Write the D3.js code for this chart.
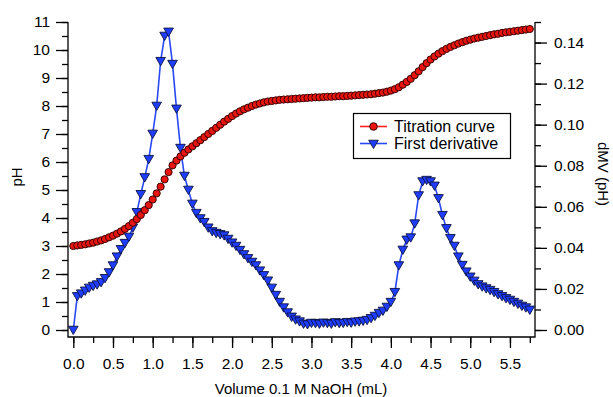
<!DOCTYPE html>
<html>
<head>
<meta charset="utf-8">
<script src="https://cdn.jsdelivr.net/npm/d3@7"></script>
<style>
  body { margin: 0; background: #fff; }
  text { font-family: "Liberation Sans", Arial, Helvetica, sans-serif; }
</style>
</head>
<body>
<div id="chart"></div>
<script>
// volume step between readings (mL)
var volume_step = 0.05;

// titration curve, pH
var ph_values = [
    3.00, 3.02, 3.04, 3.06, 3.09, 3.12, 3.16, 3.20, 3.25, 3.31,
    3.37, 3.44, 3.52, 3.61, 3.71, 3.83, 3.96, 4.11, 4.28, 4.46,
    4.66, 4.88, 5.12, 5.38, 5.64, 5.88, 6.05, 6.20, 6.33, 6.45,
    6.56, 6.67, 6.78, 6.89, 7.00, 7.11, 7.22, 7.33, 7.44, 7.54,
    7.64, 7.73, 7.81, 7.88, 7.94, 8.00, 8.05, 8.09, 8.13, 8.16,
    8.18, 8.20, 8.22, 8.23, 8.24, 8.25, 8.26, 8.27, 8.28, 8.29,
    8.30, 8.31, 8.31, 8.32, 8.33, 8.33, 8.34, 8.35, 8.35, 8.36,
    8.37, 8.38, 8.39, 8.40, 8.41, 8.42, 8.44, 8.46, 8.48, 8.51,
    8.55, 8.60, 8.67, 8.76, 8.86, 8.97, 9.10, 9.24, 9.39, 9.53,
    9.66, 9.77, 9.87, 9.96, 10.04, 10.11, 10.17, 10.23, 10.28, 10.33,
    10.37, 10.41, 10.44, 10.47, 10.50, 10.53, 10.56, 10.58, 10.61, 10.63,
    10.65, 10.67, 10.69, 10.71, 10.73, 10.75
];

// first derivative, dMV (pH)
var dmv_values = [
    0.0000, 0.0164, 0.0177, 0.0191, 0.0205, 0.0214, 0.0221, 0.0232, 0.0252, 0.0280,
    0.0314, 0.0357, 0.0393, 0.0423, 0.0453, 0.0498, 0.0573, 0.0661, 0.0743, 0.0832,
    0.0955, 0.1091, 0.1309, 0.1432, 0.1452, 0.1295, 0.1077, 0.0886, 0.0750, 0.0682,
    0.0614, 0.0569, 0.0543, 0.0525, 0.0498, 0.0480, 0.0472, 0.0466, 0.0460, 0.0443,
    0.0425, 0.0409, 0.0389, 0.0368, 0.0349, 0.0331, 0.0314, 0.0289, 0.0266, 0.0240,
    0.0205, 0.0170, 0.0136, 0.0109, 0.0085, 0.0064, 0.0050, 0.0041, 0.0030, 0.0027,
    0.0034, 0.0033, 0.0030, 0.0035, 0.0033, 0.0030, 0.0037, 0.0033, 0.0034, 0.0038,
    0.0035, 0.0040, 0.0041, 0.0044, 0.0048, 0.0057, 0.0068, 0.0082, 0.0093, 0.0112,
    0.0136, 0.0184, 0.0314, 0.0390, 0.0439, 0.0450, 0.0518, 0.0655, 0.0723, 0.0730,
    0.0723, 0.0702, 0.0641, 0.0559, 0.0495, 0.0447, 0.0409, 0.0357, 0.0316, 0.0284,
    0.0259, 0.0239, 0.0222, 0.0211, 0.0202, 0.0194, 0.0184, 0.0173, 0.0164, 0.0154,
    0.0146, 0.0136, 0.0127, 0.0117, 0.0109, 0.0098
];

// tick labels
var vol_ticks = [0.0, 0.5, 1.0, 1.5, 2.0, 2.5, 3.0, 3.5, 4.0, 4.5, 5.0, 5.5];
var ph_ticks = [0, 1, 2, 3, 4, 5, 6, 7, 8, 9, 10, 11];
var dmv_ticks = [0.00, 0.02, 0.04, 0.06, 0.08, 0.10, 0.12, 0.14];

var series_names = ['Titration curve', 'First derivative'];

var chart_width = 613;
var chart_height = 397;
var left_edge = 68, right_edge = 535, top_edge = 22, bottom_edge = 337;

var svg = d3.select('#chart')
    .append('svg')
    .attr('width', chart_width)
    .attr('height', chart_height)

var x_scale = d3.scaleLinear()
    .domain([0, 5.75])
    .range([73.3, 529.8])

var y_scale = d3.scaleLinear()
    .domain([0, 11])
    .range([330, 22])

var y2_scale = d3.scaleLinear()
    .domain([0, 0.15])
    .range([330, 22])

// frame (no top line)
svg.append('path')
    .attr('d', 'M' + left_edge + ',' + top_edge + 'V' + bottom_edge + 'H' + right_edge + 'V' + top_edge)
    .attr('fill', 'none')
    .attr('stroke', '#000')
    .attr('stroke-width', 1.3)

function style_axis(g, size) {
    g.select('.domain').remove();
    g.selectAll('.tick line').attr('stroke', '#000').attr('stroke-width', 1.3);
    g.selectAll('.tick text').attr('font-size', size).attr('fill', '#000');
}

// minor ticks
var vol_minor = d3.range(0, 24).map(function (i) { return i * 0.25; });
var ph_minor = d3.range(0, 23).map(function (i) { return i * 0.5; });
var dmv_minor = d3.range(0, 16).map(function (i) { return i * 0.01; });

svg.append('g')
    .attr('transform', 'translate(0,' + bottom_edge + ')')
    .call(d3.axisBottom(x_scale).tickValues(vol_minor).tickSize(6).tickFormat(''))
    .call(style_axis, 14)
svg.append('g')
    .attr('transform', 'translate(0,' + bottom_edge + ')')
    .call(d3.axisBottom(x_scale).tickValues(vol_ticks).tickSize(11).tickPadding(10).tickFormat(d3.format('.1f')))
    .call(style_axis, 15.5)

svg.append('g')
    .attr('transform', 'translate(' + left_edge + ',0)')
    .call(d3.axisLeft(y_scale).tickValues(ph_minor).tickSize(6).tickFormat(''))
    .call(style_axis, 14)
svg.append('g')
    .attr('transform', 'translate(' + left_edge + ',0)')
    .call(d3.axisLeft(y_scale).tickValues(ph_ticks).tickSize(12).tickPadding(6).tickFormat(d3.format('d')))
    .call(style_axis, 15.5)

svg.append('g')
    .attr('transform', 'translate(' + right_edge + ',0)')
    .call(d3.axisRight(y2_scale).tickValues(dmv_minor).tickSize(6).tickFormat(''))
    .call(style_axis, 14)
svg.append('g')
    .attr('transform', 'translate(' + right_edge + ',0)')
    .call(d3.axisRight(y2_scale).tickValues(dmv_ticks).tickSize(12).tickPadding(7).tickFormat(d3.format('.2f')))
    .call(style_axis, 15.5)

// axis titles
svg.append('text')
    .text('Volume 0.1 M NaOH (mL)')
    .attr('x', 301)
    .attr('y', 394)
    .attr('font-size', 15)
    .attr('text-anchor', 'middle')

svg.append('text')
    .text('pH')
    .attr('transform', 'translate(22,177) rotate(-90)')
    .attr('font-size', 15)
    .attr('text-anchor', 'middle')

svg.append('text')
    .text('dMV (pH)')
    .attr('transform', 'translate(598,174) rotate(90)')
    .attr('font-size', 15)
    .attr('text-anchor', 'middle')

// first derivative
var tri = d3.symbol().type(d3.symbolTriangle).size(40);

svg.append('path')
    .datum(dmv_values)
    .attr('fill', 'none')
    .attr('stroke', '#2a48f5')
    .attr('stroke-width', 1.6)
    .attr('d', d3.line()
        .x(function (d, i) { return x_scale(i * volume_step); })
        .y(function (d) { return y2_scale(d); }))

svg.selectAll('.tri')
    .data(dmv_values)
    .enter()
    .append('path')
    .attr('class', 'tri')
    .attr('d', tri)
    .attr('transform', function (d, i) {
        return 'translate(' + x_scale(i * volume_step) + ',' + (y2_scale(d) - 1) + ') rotate(180)';
    })
    .attr('fill', '#1f3dff')
    .attr('stroke', '#0b1240')
    .attr('stroke-width', 0.9)

// titration curve
svg.selectAll('.dot')
    .data(ph_values)
    .enter()
    .append('circle')
    .attr('class', 'dot')
    .attr('cx', function (d, i) { return x_scale(i * volume_step); })
    .attr('cy', function (d) { return y_scale(d); })
    .attr('r', 3.6)
    .attr('fill', '#e8140f')
    .attr('stroke', '#3a0404')
    .attr('stroke-width', 1)

// legend
var legend = svg.append('g')
legend.append('rect')
    .attr('x', 353.5)
    .attr('y', 113.5)
    .attr('width', 157)
    .attr('height', 45)
    .attr('fill', '#fff')
    .attr('stroke', '#000')
    .attr('stroke-width', 1.2)

legend.append('line')
    .attr('x1', 360).attr('x2', 387).attr('y1', 126.5).attr('y2', 126.5)
    .attr('stroke', '#ff2020').attr('stroke-width', 1.6)
legend.append('circle')
    .attr('cx', 373.5).attr('cy', 126.5).attr('r', 3.8)
    .attr('fill', '#e8140f').attr('stroke', '#3a0404').attr('stroke-width', 1)

legend.append('line')
    .attr('x1', 360).attr('x2', 387).attr('y1', 143.5).attr('y2', 143.5)
    .attr('stroke', '#2a48f5').attr('stroke-width', 1.6)
legend.append('path')
    .attr('d', tri)
    .attr('transform', 'translate(373.5,143) rotate(180)')
    .attr('fill', '#1f3dff').attr('stroke', '#0b1240').attr('stroke-width', 0.9)

legend.selectAll('.ltxt')
    .data(series_names)
    .enter()
    .append('text')
    .attr('class', 'ltxt')
    .text(function (d) { return d; })
    .attr('x', 394)
    .attr('y', function (d, i) { return 132 + i * 17; })
    .attr('font-size', 16)
</script>
</body>
</html>
